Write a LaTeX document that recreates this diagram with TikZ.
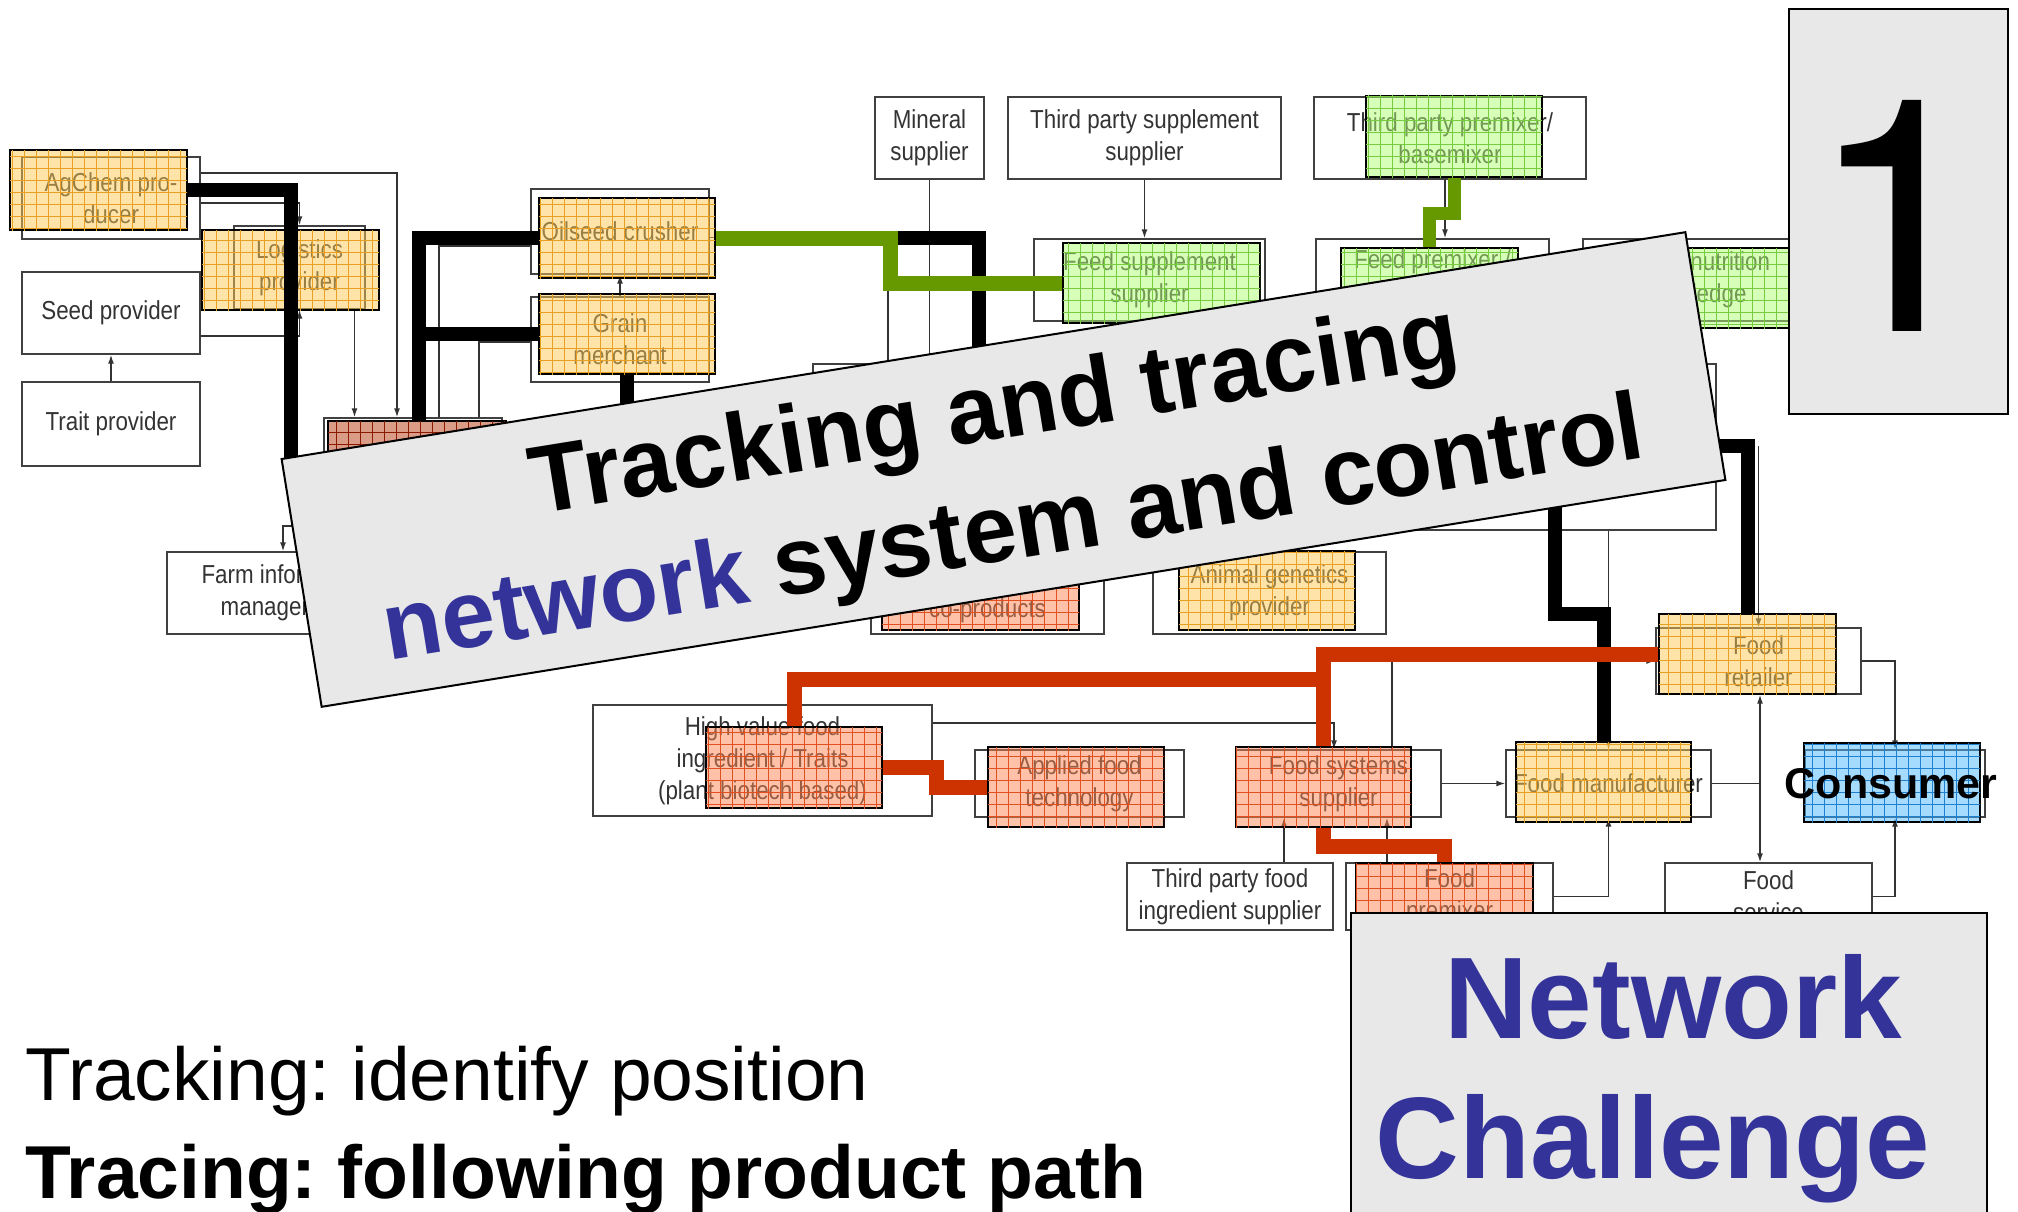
\documentclass[tikz,border=0pt]{standalone}
\usepackage{fontspec}
\setmainfont{Liberation Sans}
\newfontfamily\condfont[FakeStretch=0.86]{Liberation Sans}
\newfontfamily\heros{TeX Gyre Heros}
\usetikzlibrary{arrows.meta,patterns.meta}
\frenchspacing
\definecolor{netblue}{HTML}{333399}
\definecolor{trred}{HTML}{CC3300}
\definecolor{trgreen}{HTML}{669900}
\definecolor{bannergray}{HTML}{E8E8E8}
\definecolor{yelfill}{HTML}{FFC955}
\definecolor{yelgrid}{HTML}{E8A020}
\definecolor{grnfill}{HTML}{AFFF73}
\definecolor{grngrid}{HTML}{78CC40}
\definecolor{salfill}{HTML}{FF8755}
\definecolor{salgrid}{HTML}{E05020}
\definecolor{brnfill}{HTML}{B83A10}
\definecolor{brngrid}{HTML}{8A1A00}
\definecolor{blufill}{HTML}{4BB9FF}
\definecolor{blugrid}{HTML}{2080D0}

\tikzset{
  obox/.style={draw=black!75, line width=1.4pt, fill=white, inner sep=0pt, align=center,
    text=black!80, font=\condfont\fontsize{26}{32}\selectfont},
  cbox/.style={draw=black, line width=2pt, fill opacity=0.5, inner sep=0pt},
  yel/.style={cbox, fill=yelfill, postaction={pattern={Hatch[distance=12pt,line width=0.7pt]}, pattern color=yelgrid}},
  grn/.style={cbox, fill=grnfill, postaction={pattern={Hatch[distance=12pt,line width=0.7pt]}, pattern color=grngrid}},
  sal/.style={cbox, fill=salfill, postaction={pattern={Hatch[distance=12pt,line width=0.7pt]}, pattern color=salgrid}},
  brn/.style={cbox, fill=brnfill, postaction={pattern={Hatch[distance=12pt,line width=0.7pt]}, pattern color=brngrid}},
  blu/.style={cbox, fill=blufill, postaction={pattern={Hatch[distance=12pt,line width=0.7pt]}, pattern color=blugrid}},
  ln/.style={draw=black!80, line width=1.4pt},
  arr/.style={ln, -{Latex[length=9pt,width=6pt]}},
  blk/.style={line width=14pt, black},
  grnln/.style={line width=15pt, trgreen},
  redln/.style={line width=15pt, trred},
  slab/.style={draw=black, line width=2pt, fill=bannergray, inner sep=0pt}
}

\begin{document}
\begin{tikzpicture}[x=1pt,y=-1pt]
\useasboundingbox (0,0) rectangle (2018,1212);

% original network boxes
\node[obox, minimum width=178pt, minimum height=82pt] (agchem) at (111,198) {AgChem pro-\\ducer};
\node[obox, minimum width=131pt, minimum height=83pt] (logist) at (299.5,267.5) {Logistics\\provider};
\node[obox, minimum width=178pt, minimum height=82pt] (seed) at (111,313) {Seed provider};
\node[obox, minimum width=178pt, minimum height=84pt] (trait) at (111,424) {Trait provider};
\node[obox, minimum width=238pt, minimum height=82pt] (farminfo) at (286,593) {Farm information\\management};
\node[obox, minimum width=178pt, minimum height=82pt] (farm) at (413,459) {};
\node[obox, minimum width=178pt, minimum height=85pt] (oilseed) at (620,231.5) {Oilseed crusher};
\node[obox, minimum width=178pt, minimum height=85pt] (grain) at (620,339.5) {Grain\\merchant};
\node[obox, minimum width=109pt, minimum height=82pt] (mineral) at (929.5,138) {Mineral\\supplier};
\node[obox, minimum width=273pt, minimum height=82pt] (tpsupp) at (1144.5,138) {Third party supplement\\supplier};
\node[obox, minimum width=272pt, minimum height=82pt] (tpprem) at (1450,138) {Third party premixer/\\basemixer};
\node[obox, minimum width=231pt, minimum height=82pt] (feedsupp) at (1149.5,280) {Feed supplement\\supplier};
\node[obox, minimum width=233pt, minimum height=82pt] (feedprem) at (1432.5,280) {Feed premixer /\\\strut};
\node[obox, minimum width=220pt, minimum height=82pt] (animnut) at (1693,280) {Animal nutrition\\knowledge};
\node[obox, minimum width=903pt, minimum height=166pt] (bigbox) at (1264.5,447) {};
\node[obox, minimum width=233pt, minimum height=82pt] (coprod) at (987.5,593) {\strut\\co-products};
\node[obox, minimum width=233pt, minimum height=82pt] (animgen) at (1269.5,593) {Animal genetics\\provider};
\node[obox, minimum width=339pt, minimum height=111pt] (highval) at (762.5,760.5) {High value food\\ingredient / Traits\\(plant biotech based)};
\node[obox, minimum width=209pt, minimum height=67pt] (applied) at (1079.5,783.5) {Applied food\\technology};
\node[obox, minimum width=205pt, minimum height=67pt] (foodsys) at (1338.5,783.5) {Food systems\\supplier};
\node[obox, minimum width=205pt, minimum height=67pt] (foodman) at (1608.5,783.5) {Food manufacturer};
\node[obox, minimum width=205pt, minimum height=66pt] (retailer) at (1758.5,661) {Food\\retailer};
\node[obox, minimum width=180pt, minimum height=67pt] (consumer) at (1895,783.5) {};
\node[obox, minimum width=206pt, minimum height=67pt] (tpfood) at (1230,896.5) {Third party food\\ingredient supplier};
\node[obox, minimum width=207pt, minimum height=67pt] (foodprem) at (1449.5,896.5) {Food\\premixer};
\node[obox, minimum width=207pt, minimum height=67pt] (foodserv) at (1768.5,896.5) {Food\\service};

% free ends under the banner
\coordinate (k1) at (291,472);
\coordinate (k3) at (627,420);
\coordinate (k4) at (979,400);
\coordinate (k5) at (1715,446);
\coordinate (k6) at (1555,500);
\coordinate (fi) at (300,526);
\coordinate (redjoin) at (1323.5,679);

% thin links
\draw[arr] (trait) -- (seed);
\draw[arr] ([yshift=25pt]agchem.east) -| ([xshift=-16pt]farm.north);
\draw[arr] ([yshift=-5pt]agchem.east) -| (logist.north);
\draw[arr] ([yshift=-23pt]seed.east) -| (logist.south);
\draw[arr] ([xshift=55pt]logist.south) -- ([xshift=55pt]logist.south |- farm.north);
\draw[ln] ([yshift=-14.5pt]oilseed.west) -| ([xshift=26pt]farm.north);
\draw[ln] ([yshift=-2.5pt]grain.west) -| ([xshift=66pt]farm.north);
\draw[arr] (grain.north) -- (oilseed.south);
\draw[arr] (fi) -| ([xshift=-3pt]farminfo.north);
\draw[ln] ([yshift=-6pt]oilseed.east) -| ([xshift=-376.5pt]bigbox.north);
\draw[arr] (mineral.south) -- (mineral.south |- bigbox.north);
\draw[arr] (tpsupp.south) -- (tpsupp.south |- feedsupp.north);
\draw[arr] ([xshift=-5pt]tpprem.south) -- ([xshift=-5pt]tpprem.south |- feedprem.north);
\draw[arr] ([yshift=37.5pt]highval.east) -| ([xshift=-4.5pt]foodsys.north);
\draw[arr] ([xshift=53.5pt]foodsys.north) |- (retailer.west);
\draw[arr] (foodsys) -- (foodman);
\draw[ln] (foodman.east) -- ++(48.5,0);
\draw[ln, {Latex[length=9pt,width=6pt]}-{Latex[length=9pt,width=6pt]}] ([xshift=1.5pt]retailer.south) -- ([xshift=1.5pt]retailer.south |- foodserv.north);
\draw[arr] (retailer.east) -| (consumer.north);
\draw[arr] (foodserv.east) -| (consumer.south);
\draw[arr] (foodprem.east) -| (foodman.south);
\draw[arr] ([xshift=54pt]tpfood.north) -- ([xshift=54pt]tpfood.north |- foodsys.south);
\draw[arr] ([xshift=-62.5pt]foodprem.north) -- ([xshift=-62.5pt]foodprem.north |- foodsys.south);
\draw[arr] (foodman.north |- bigbox.south) -- (foodman.north);
\draw[arr] (retailer.north |- k5) -- (retailer.north);

% highlighted actors
\node[yel, minimum width=177pt, minimum height=80pt] (agchemC) at (98.5,190) {};
\node[yel, minimum width=177pt, minimum height=80pt] (logistC) at (290.5,270) {};
\node[yel, minimum width=176pt, minimum height=80pt] (oilseedC) at (627,238) {};
\node[yel, minimum width=176pt, minimum height=80pt] (grainC) at (627,334) {};
\node[brn, minimum width=178pt, minimum height=80pt] (farmC) at (417,461) {};
\node[grn, minimum width=197pt, minimum height=80pt] (feedsuppC) at (1161.5,283) {};
\node[grn, minimum width=176pt, minimum height=81pt] (tppremC) at (1454,136.5) {};
\node[grn, minimum width=177pt, minimum height=80pt] (feedpremC) at (1429.5,288) {};
\node[grn, minimum width=177pt, minimum height=80pt] (animnutC) at (1700.5,288) {};
\node[sal, minimum width=197pt, minimum height=79pt] (coprodC) at (980.5,590.5) {};
\node[yel, minimum width=176pt, minimum height=79pt] (animgenC) at (1267,590.5) {};
\node[sal, minimum width=176pt, minimum height=81pt] (highvalC) at (794,767.5) {};
\node[sal, minimum width=176pt, minimum height=80pt] (appliedC) at (1076,787) {};
\node[sal, minimum width=175pt, minimum height=80pt] (foodsysC) at (1323.5,787) {};
\node[yel, minimum width=175pt, minimum height=80pt] (foodmanC) at (1603.5,782) {};
\node[yel, minimum width=177pt, minimum height=80pt] (retailerC) at (1747.5,654) {};
\node[blu, minimum width=176pt, minimum height=79pt] (consumerC) at (1892,782.5) {};
\node[sal, minimum width=177pt, minimum height=80pt] (foodpremC) at (1444.5,903) {};

% product flows
\draw[blk] (agchemC.east) -| (k1);
\draw[blk] (oilseedC.west) -| ([xshift=2pt]farmC.north);
\draw[blk] (grainC.west) -- ++(-120,0);
\draw[blk] (grainC.south) -- (k3);
\draw[blk] (oilseedC.east) -| (k4);
\draw[blk] (k5) -| (retailerC.north);
\draw[blk] (k6) -- ++(0,114) -| (foodmanC.north);
\draw[grnln] (oilseedC.east) -- ++(174,0) |- (feedsuppC.west);
\draw[line width=13pt, trgreen] (tppremC.south) -- ++(0,35) -| (feedpremC.north);
\draw[redln] (retailerC.west) -| (foodsysC.north);
\draw[redln] (redjoin) -| (highvalC.north);
\draw[redln] (highvalC.east) -- ++(53,0) |- (appliedC.west);
\draw[redln] (foodsysC.south) -- ++(0,18) -| (foodpremC.north);

% overlays
\node[slab, minimum width=1422pt, minimum height=251pt, rotate=9.18] (banner) at (1003.5,469.5) {};
\node[rotate=9.18, align=center, inner sep=0pt, font=\fontsize{96}{121}\selectfont\bfseries] (bannertext)
  at ([xshift=1pt,yshift=-5pt]banner.center) {Tracking and tracing\\\textcolor{netblue}{network} system and control};

\node[slab, line width=1.5pt, minimum width=219pt, minimum height=405pt] (numbox) at (1898.5,211.5) {};
\node[anchor=base, inner sep=0pt, font=\heros\fontsize{326}{326}\selectfont] (num) at (1899,331) {1};

\node[slab, minimum width=636pt, minimum height=327pt] (chalbox) at (1669,1076.5) {};
\node[anchor=base, inner sep=0pt, text=netblue, font=\fontsize{116}{140}\selectfont\bfseries] (chal1) at (1673,1038) {Network};
\node[anchor=base, inner sep=0pt, text=netblue, font=\fontsize{116}{140}\selectfont\bfseries] (chal2) at (1653,1178) {Challenge};

\node[anchor=base, inner sep=0pt, font=\fontsize{43}{50}\selectfont\bfseries] (consumertext) at (1891,798) {Consumer};

\node[anchor=base west, inner sep=0pt, font=\fontsize{75}{90}\selectfont] (trackdef) at (25,1100) {Tracking: identify position};
\node[anchor=base west, inner sep=0pt, font=\fontsize{75}{90}\selectfont\bfseries] (tracedef) at (25,1198) {Tracing: following product path};
\end{tikzpicture}
\end{document}
